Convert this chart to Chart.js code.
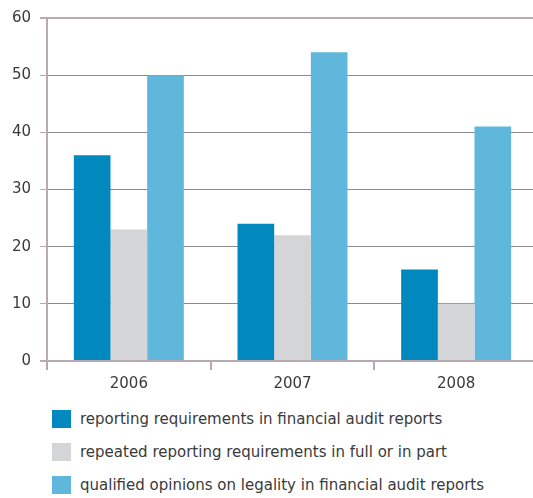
<!DOCTYPE html>
<html>
<head>
<meta charset="utf-8">
<script src="https://cdn.jsdelivr.net/npm/chart.js@4/dist/chart.umd.min.js"></script>
<style>
  html, body { margin:0; padding:0; background:#fff; overflow:hidden; }
  #wrap { position:relative; width:540px; height:498px; }
  #chartBox { position:absolute; left:0; top:0; width:540px; height:400px; }
  #legend { position:absolute; left:52px; top:402px; font-family:"DejaVu Sans", sans-serif; font-size:15px; color:#3a3a3a; }
  .row { display:flex; align-items:center; height:33px; }
  .sw { width:19px; height:18px; margin-right:9px; flex:none; }
</style>
</head>
<body>
<div id="wrap">
  <div id="chartBox"><canvas id="chart"></canvas></div>
  <div id="legend"></div>
</div>
<script>
// data
const years = ["2006", "2007", "2008"];
const reporting = [36, 24, 16];
const repeated = [23, 22, 10];
const qualified = [50, 54, 41];
const seriesNames = [
  "reporting requirements in financial audit reports",
  "repeated reporting requirements in full or in part",
  "qualified opinions on legality in financial audit reports"
];
const seriesColors = ["#0088bf", "#d4d5d7", "#5fb8db"];
const yTicks = [0, 10, 20, 30, 40, 50, 60];

const mauve = "#b9a9b3";
const fontFam = "'DejaVu Sans', sans-serif";

const ctx = document.getElementById("chart").getContext("2d");
new Chart(ctx, {
  type: "bar",
  data: {
    labels: years,
    datasets: [reporting, repeated, qualified].map((d, i) => ({
      label: seriesNames[i], data: d, backgroundColor: seriesColors[i],
      borderWidth: 0, barPercentage: 1, categoryPercentage: 0.672
    }))
  },
  options: {
    responsive: true,
    maintainAspectRatio: false,
    animation: false,
    layout: { padding: { top: 18, right: 2, left: 0, bottom: 0 } },
    plugins: { legend: { display: false }, tooltip: { enabled: false } },
    scales: {
      x: {
        offset: true,
        grid: { offset: true, drawOnChartArea: false, tickLength: 9, tickColor: mauve, lineWidth: 2 },
        border: { color: mauve, width: 2 },
        ticks: { color: "#3a3a3a", font: { family: fontFam, size: 15 }, padding: 5 },
        afterFit: (s) => { s.height = 39; }
      },
      y: {
        min: 0, max: 60,
        afterBuildTicks: (s) => { s.ticks = yTicks.map(v => ({ value: v })); },
        grid: {
          color: (c) => (c.tick && (c.tick.value === 0 || c.tick.value === 60)) ? mauve : "#8a8a8a",
          lineWidth: (c) => (c.tick && (c.tick.value === 0 || c.tick.value === 60)) ? 2 : 1,
          tickColor: mauve, tickLength: 7
        },
        border: { color: mauve, width: 2 },
        ticks: { color: "#3a3a3a", font: { family: fontFam, size: 15 }, padding: 9 },
        afterFit: (s) => { s.width = 47; }
      }
    }
  }
});

// legend
const lg = document.getElementById("legend");
seriesNames.forEach((name, i) => {
  const row = document.createElement("div");
  row.className = "row";
  row.innerHTML = `<span class="sw" style="background:${seriesColors[i]}"></span><span>${name}</span>`;
  lg.appendChild(row);
});
</script>
</body>
</html>
